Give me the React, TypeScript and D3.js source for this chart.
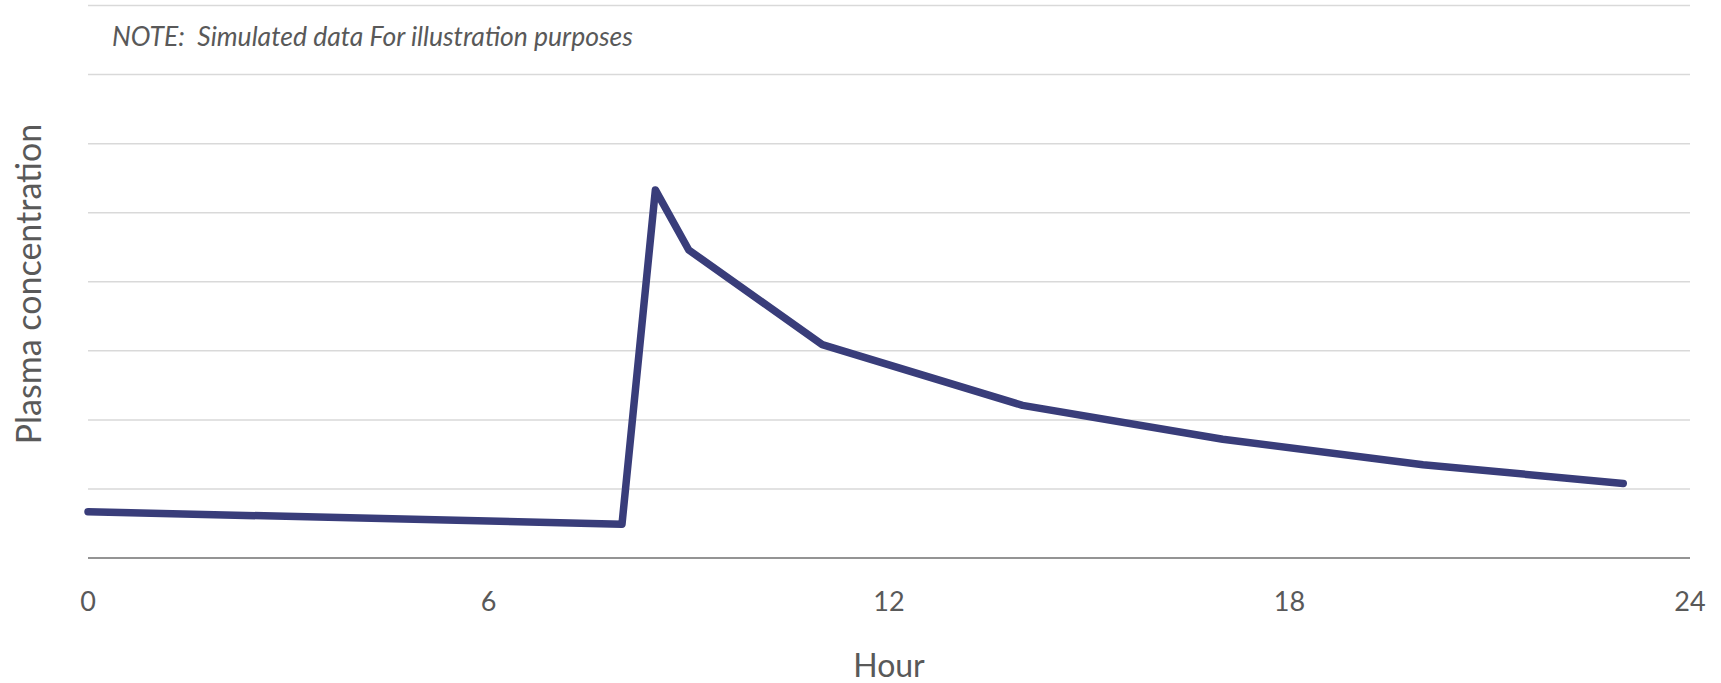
import React from 'react';
import * as d3 from 'd3';

// simulated plasma concentration over a day (dose just after hour 8)
const hours: number[] = [0, 8, 8.5, 9, 11, 14, 17, 20, 23];
const concentration: number[] = [0.67, 0.49, 5.33, 4.46, 3.09, 2.21, 1.72, 1.35, 1.08];
const xTicks: number[] = [0, 6, 12, 18, 24];
const yGrid: number[] = [1, 2, 3, 4, 5, 6, 7, 8];

const noteText = 'NOTE:  Simulated data For illustration purposes';
const xTitle = 'Hour';
const yTitle = 'Plasma concentration';

const W = 1721;
const H = 683;
const margin = { top: 5.5, right: 31, bottom: 125, left: 88 };
const font = 'Lato, "Open Sans", sans-serif';

const App: React.FC = () => {
    const innerW = W - margin.left - margin.right;
    const innerH = H - margin.top - margin.bottom;

    const x = d3.scaleLinear().domain([0, 24]).range([margin.left, margin.left + innerW]);
    const y = d3.scaleLinear().domain([0, 8]).range([margin.top + innerH, margin.top]);

    const points = hours.map((h, i) => ({ h, c: concentration[i] }));
    const line = d3
        .line<{ h: number; c: number }>()
        .x((d) => x(d.h))
        .y((d) => y(d.c));

    const axisY = y(0);

    return (
        <svg
            width={W}
            height={H}
            style={{ position: 'absolute', left: 0, top: 0, background: '#fff' }}
        >
            {/* gridlines */}
            {yGrid.map((g) => (
                <line
                    key={g}
                    x1={x(0)}
                    x2={x(24)}
                    y1={y(g)}
                    y2={y(g)}
                    stroke="#d9d9d9"
                    strokeWidth={1.5}
                />
            ))}

            {/* x axis */}
            <line x1={x(0)} x2={x(24)} y1={axisY} y2={axisY} stroke="#707070" strokeWidth={1.5} />
            {xTicks.map((t) => (
                <text
                    key={t}
                    x={x(t)}
                    y={axisY + 53}
                    textAnchor="middle"
                    fontFamily={font}
                    fontSize={27}
                    fill="#595959"
                >
                    {t}
                </text>
            ))}

            {/* series */}
            <path
                d={line(points) || ''}
                fill="none"
                stroke="#393d7a"
                strokeWidth={7.5}
                strokeLinejoin="round"
                strokeLinecap="round"
            />

            {/* note */}
            <text
                x={112}
                y={46}
                fontFamily={font}
                fontStyle="italic"
                fontSize={26.5}
                fill="#595959"
                style={{ whiteSpace: 'pre' }}
            >
                {noteText}
            </text>

            {/* axis titles */}
            <text
                x={(x(0) + x(24)) / 2}
                y={677}
                textAnchor="middle"
                fontFamily={font}
                fontSize={32}
                fill="#595959"
            >
                {xTitle}
            </text>
            <text
                transform={`translate(41, ${284}) rotate(-90)`}
                textAnchor="middle"
                fontFamily={font}
                fontSize={34}
                fill="#595959"
            >
                {yTitle}
            </text>
        </svg>
    );
};

export default App;
